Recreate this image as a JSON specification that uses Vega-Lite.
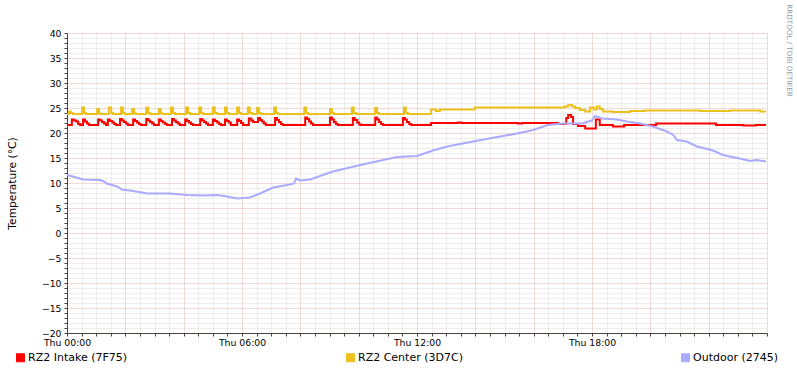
{
  "$schema": "https://vega.github.io/schema/vega-lite/v6.json",
  "width": 700,
  "height": 300,
  "autosize": "none",
  "padding": {"left": 67, "top": 33, "right": 30, "bottom": 40},
  "background": "white",
  "config": {"view": {"stroke": null}, "font": "DejaVu Sans"},
  "title": {"text": "Last 24 hours", "fontSize": 12, "fontWeight": "normal", "color": "black", "anchor": "middle", "dx": -19, "offset": 8},
  "data": {"values": [
    {"t": "2024-01-04T00:00", "s": "RZ2 Intake (7F75)", "v": 21.6}, {"t": "2024-01-04T00:06", "s": "RZ2 Intake (7F75)", "v": 21.6}, {"t": "2024-01-04T00:10", "s": "RZ2 Intake (7F75)", "v": 22.7}, {"t": "2024-01-04T00:14", "s": "RZ2 Intake (7F75)", "v": 22.5}, {"t": "2024-01-04T00:19", "s": "RZ2 Intake (7F75)", "v": 22.3}, {"t": "2024-01-04T00:23", "s": "RZ2 Intake (7F75)", "v": 21.8}, {"t": "2024-01-04T00:27", "s": "RZ2 Intake (7F75)", "v": 21.6},
    {"t": "2024-01-04T00:33", "s": "RZ2 Intake (7F75)", "v": 22.7}, {"t": "2024-01-04T00:37", "s": "RZ2 Intake (7F75)", "v": 22.3}, {"t": "2024-01-04T00:41", "s": "RZ2 Intake (7F75)", "v": 21.9}, {"t": "2024-01-04T00:45", "s": "RZ2 Intake (7F75)", "v": 21.6},
    {"t": "2024-01-04T01:04", "s": "RZ2 Intake (7F75)", "v": 22.7}, {"t": "2024-01-04T01:08", "s": "RZ2 Intake (7F75)", "v": 22.5}, {"t": "2024-01-04T01:12", "s": "RZ2 Intake (7F75)", "v": 22.2}, {"t": "2024-01-04T01:16", "s": "RZ2 Intake (7F75)", "v": 21.9}, {"t": "2024-01-04T01:20", "s": "RZ2 Intake (7F75)", "v": 21.6},
    {"t": "2024-01-04T01:24", "s": "RZ2 Intake (7F75)", "v": 22.7}, {"t": "2024-01-04T01:28", "s": "RZ2 Intake (7F75)", "v": 22.4}, {"t": "2024-01-04T01:33", "s": "RZ2 Intake (7F75)", "v": 22.1}, {"t": "2024-01-04T01:37", "s": "RZ2 Intake (7F75)", "v": 21.8}, {"t": "2024-01-04T01:41", "s": "RZ2 Intake (7F75)", "v": 21.6},
    {"t": "2024-01-04T01:49", "s": "RZ2 Intake (7F75)", "v": 22.8}, {"t": "2024-01-04T01:53", "s": "RZ2 Intake (7F75)", "v": 22.5}, {"t": "2024-01-04T01:57", "s": "RZ2 Intake (7F75)", "v": 22.2}, {"t": "2024-01-04T02:01", "s": "RZ2 Intake (7F75)", "v": 21.9}, {"t": "2024-01-04T02:05", "s": "RZ2 Intake (7F75)", "v": 21.6},
    {"t": "2024-01-04T02:16", "s": "RZ2 Intake (7F75)", "v": 22.7}, {"t": "2024-01-04T02:20", "s": "RZ2 Intake (7F75)", "v": 22.4}, {"t": "2024-01-04T02:24", "s": "RZ2 Intake (7F75)", "v": 22.1}, {"t": "2024-01-04T02:28", "s": "RZ2 Intake (7F75)", "v": 21.8}, {"t": "2024-01-04T02:32", "s": "RZ2 Intake (7F75)", "v": 21.6},
    {"t": "2024-01-04T02:43", "s": "RZ2 Intake (7F75)", "v": 22.8}, {"t": "2024-01-04T02:47", "s": "RZ2 Intake (7F75)", "v": 22.5}, {"t": "2024-01-04T02:51", "s": "RZ2 Intake (7F75)", "v": 22.2}, {"t": "2024-01-04T02:55", "s": "RZ2 Intake (7F75)", "v": 21.9}, {"t": "2024-01-04T02:59", "s": "RZ2 Intake (7F75)", "v": 21.6},
    {"t": "2024-01-04T03:09", "s": "RZ2 Intake (7F75)", "v": 22.7}, {"t": "2024-01-04T03:13", "s": "RZ2 Intake (7F75)", "v": 22.4}, {"t": "2024-01-04T03:17", "s": "RZ2 Intake (7F75)", "v": 22.1}, {"t": "2024-01-04T03:22", "s": "RZ2 Intake (7F75)", "v": 21.8}, {"t": "2024-01-04T03:26", "s": "RZ2 Intake (7F75)", "v": 21.6},
    {"t": "2024-01-04T03:36", "s": "RZ2 Intake (7F75)", "v": 22.8}, {"t": "2024-01-04T03:40", "s": "RZ2 Intake (7F75)", "v": 22.5}, {"t": "2024-01-04T03:44", "s": "RZ2 Intake (7F75)", "v": 22.2}, {"t": "2024-01-04T03:48", "s": "RZ2 Intake (7F75)", "v": 21.9}, {"t": "2024-01-04T03:52", "s": "RZ2 Intake (7F75)", "v": 21.6},
    {"t": "2024-01-04T04:03", "s": "RZ2 Intake (7F75)", "v": 22.7}, {"t": "2024-01-04T04:07", "s": "RZ2 Intake (7F75)", "v": 22.4}, {"t": "2024-01-04T04:11", "s": "RZ2 Intake (7F75)", "v": 22.1}, {"t": "2024-01-04T04:15", "s": "RZ2 Intake (7F75)", "v": 21.8}, {"t": "2024-01-04T04:19", "s": "RZ2 Intake (7F75)", "v": 21.6},
    {"t": "2024-01-04T04:34", "s": "RZ2 Intake (7F75)", "v": 22.8}, {"t": "2024-01-04T04:38", "s": "RZ2 Intake (7F75)", "v": 22.5}, {"t": "2024-01-04T04:42", "s": "RZ2 Intake (7F75)", "v": 22.2}, {"t": "2024-01-04T04:46", "s": "RZ2 Intake (7F75)", "v": 21.9}, {"t": "2024-01-04T04:50", "s": "RZ2 Intake (7F75)", "v": 21.6},
    {"t": "2024-01-04T05:00", "s": "RZ2 Intake (7F75)", "v": 22.7}, {"t": "2024-01-04T05:04", "s": "RZ2 Intake (7F75)", "v": 22.4}, {"t": "2024-01-04T05:09", "s": "RZ2 Intake (7F75)", "v": 22.1}, {"t": "2024-01-04T05:13", "s": "RZ2 Intake (7F75)", "v": 21.8}, {"t": "2024-01-04T05:17", "s": "RZ2 Intake (7F75)", "v": 21.6},
    {"t": "2024-01-04T05:25", "s": "RZ2 Intake (7F75)", "v": 22.7}, {"t": "2024-01-04T05:29", "s": "RZ2 Intake (7F75)", "v": 22.4}, {"t": "2024-01-04T05:33", "s": "RZ2 Intake (7F75)", "v": 22.1}, {"t": "2024-01-04T05:37", "s": "RZ2 Intake (7F75)", "v": 21.6},
    {"t": "2024-01-04T05:50", "s": "RZ2 Intake (7F75)", "v": 22.7}, {"t": "2024-01-04T05:54", "s": "RZ2 Intake (7F75)", "v": 22.4}, {"t": "2024-01-04T05:58", "s": "RZ2 Intake (7F75)", "v": 22.0}, {"t": "2024-01-04T06:02", "s": "RZ2 Intake (7F75)", "v": 21.6},
    {"t": "2024-01-04T06:14", "s": "RZ2 Intake (7F75)", "v": 22.9}, {"t": "2024-01-04T06:19", "s": "RZ2 Intake (7F75)", "v": 22.5}, {"t": "2024-01-04T06:23", "s": "RZ2 Intake (7F75)", "v": 22.2},
    {"t": "2024-01-04T06:33", "s": "RZ2 Intake (7F75)", "v": 23.0}, {"t": "2024-01-04T06:37", "s": "RZ2 Intake (7F75)", "v": 22.6}, {"t": "2024-01-04T06:41", "s": "RZ2 Intake (7F75)", "v": 22.3}, {"t": "2024-01-04T06:45", "s": "RZ2 Intake (7F75)", "v": 21.9}, {"t": "2024-01-04T06:49", "s": "RZ2 Intake (7F75)", "v": 21.6},
    {"t": "2024-01-04T07:08", "s": "RZ2 Intake (7F75)", "v": 23.0}, {"t": "2024-01-04T07:12", "s": "RZ2 Intake (7F75)", "v": 22.6}, {"t": "2024-01-04T07:16", "s": "RZ2 Intake (7F75)", "v": 22.2}, {"t": "2024-01-04T07:20", "s": "RZ2 Intake (7F75)", "v": 21.8}, {"t": "2024-01-04T07:24", "s": "RZ2 Intake (7F75)", "v": 21.6},
    {"t": "2024-01-04T08:10", "s": "RZ2 Intake (7F75)", "v": 23.1}, {"t": "2024-01-04T08:14", "s": "RZ2 Intake (7F75)", "v": 22.8}, {"t": "2024-01-04T08:18", "s": "RZ2 Intake (7F75)", "v": 22.3}, {"t": "2024-01-04T08:22", "s": "RZ2 Intake (7F75)", "v": 21.9}, {"t": "2024-01-04T08:26", "s": "RZ2 Intake (7F75)", "v": 21.6},
    {"t": "2024-01-04T09:01", "s": "RZ2 Intake (7F75)", "v": 23.1}, {"t": "2024-01-04T09:05", "s": "RZ2 Intake (7F75)", "v": 22.7}, {"t": "2024-01-04T09:09", "s": "RZ2 Intake (7F75)", "v": 22.2}, {"t": "2024-01-04T09:13", "s": "RZ2 Intake (7F75)", "v": 21.8}, {"t": "2024-01-04T09:17", "s": "RZ2 Intake (7F75)", "v": 21.6},
    {"t": "2024-01-04T09:48", "s": "RZ2 Intake (7F75)", "v": 23.0}, {"t": "2024-01-04T09:52", "s": "RZ2 Intake (7F75)", "v": 22.6}, {"t": "2024-01-04T09:57", "s": "RZ2 Intake (7F75)", "v": 22.1}, {"t": "2024-01-04T10:01", "s": "RZ2 Intake (7F75)", "v": 21.7}, {"t": "2024-01-04T10:05", "s": "RZ2 Intake (7F75)", "v": 21.6},
    {"t": "2024-01-04T10:34", "s": "RZ2 Intake (7F75)", "v": 23.1}, {"t": "2024-01-04T10:38", "s": "RZ2 Intake (7F75)", "v": 22.7}, {"t": "2024-01-04T10:42", "s": "RZ2 Intake (7F75)", "v": 22.2}, {"t": "2024-01-04T10:46", "s": "RZ2 Intake (7F75)", "v": 21.8}, {"t": "2024-01-04T10:50", "s": "RZ2 Intake (7F75)", "v": 21.6},
    {"t": "2024-01-04T11:31", "s": "RZ2 Intake (7F75)", "v": 23.0}, {"t": "2024-01-04T11:35", "s": "RZ2 Intake (7F75)", "v": 22.7}, {"t": "2024-01-04T11:39", "s": "RZ2 Intake (7F75)", "v": 22.2}, {"t": "2024-01-04T11:44", "s": "RZ2 Intake (7F75)", "v": 21.8}, {"t": "2024-01-04T11:48", "s": "RZ2 Intake (7F75)", "v": 21.6},
    {"t": "2024-01-04T12:29", "s": "RZ2 Intake (7F75)", "v": 22.0}, {"t": "2024-01-04T13:24", "s": "RZ2 Intake (7F75)", "v": 22.1}, {"t": "2024-01-04T13:31", "s": "RZ2 Intake (7F75)", "v": 22.0}, {"t": "2024-01-04T15:28", "s": "RZ2 Intake (7F75)", "v": 21.9}, {"t": "2024-01-04T15:36", "s": "RZ2 Intake (7F75)", "v": 22.0},
    {"t": "2024-01-04T16:50", "s": "RZ2 Intake (7F75)", "v": 21.8}, {"t": "2024-01-04T17:07", "s": "RZ2 Intake (7F75)", "v": 23.0}, {"t": "2024-01-04T17:11", "s": "RZ2 Intake (7F75)", "v": 23.6}, {"t": "2024-01-04T17:17", "s": "RZ2 Intake (7F75)", "v": 23.2}, {"t": "2024-01-04T17:21", "s": "RZ2 Intake (7F75)", "v": 21.8},
    {"t": "2024-01-04T17:31", "s": "RZ2 Intake (7F75)", "v": 21.4}, {"t": "2024-01-04T17:46", "s": "RZ2 Intake (7F75)", "v": 20.9}, {"t": "2024-01-04T18:08", "s": "RZ2 Intake (7F75)", "v": 22.7}, {"t": "2024-01-04T18:16", "s": "RZ2 Intake (7F75)", "v": 21.6}, {"t": "2024-01-04T18:43", "s": "RZ2 Intake (7F75)", "v": 21.3},
    {"t": "2024-01-04T19:06", "s": "RZ2 Intake (7F75)", "v": 21.6}, {"t": "2024-01-04T20:12", "s": "RZ2 Intake (7F75)", "v": 21.9}, {"t": "2024-01-04T22:15", "s": "RZ2 Intake (7F75)", "v": 21.6}, {"t": "2024-01-04T23:11", "s": "RZ2 Intake (7F75)", "v": 21.5}, {"t": "2024-01-04T23:37", "s": "RZ2 Intake (7F75)", "v": 21.6}, {"t": "2024-01-04T23:58", "s": "RZ2 Intake (7F75)", "v": 21.6},
    {"t": "2024-01-04T00:00", "s": "RZ2 Center (3D7C)", "v": 23.8}, {"t": "2024-01-04T00:04", "s": "RZ2 Center (3D7C)", "v": 24.3}, {"t": "2024-01-04T00:08", "s": "RZ2 Center (3D7C)", "v": 24.0}, {"t": "2024-01-04T00:12", "s": "RZ2 Center (3D7C)", "v": 23.8},
    {"t": "2024-01-04T00:31", "s": "RZ2 Center (3D7C)", "v": 25.1}, {"t": "2024-01-04T00:35", "s": "RZ2 Center (3D7C)", "v": 24.0}, {"t": "2024-01-04T00:39", "s": "RZ2 Center (3D7C)", "v": 23.8},
    {"t": "2024-01-04T01:02", "s": "RZ2 Center (3D7C)", "v": 24.8}, {"t": "2024-01-04T01:06", "s": "RZ2 Center (3D7C)", "v": 23.9}, {"t": "2024-01-04T01:10", "s": "RZ2 Center (3D7C)", "v": 23.8},
    {"t": "2024-01-04T01:26", "s": "RZ2 Center (3D7C)", "v": 25.1}, {"t": "2024-01-04T01:31", "s": "RZ2 Center (3D7C)", "v": 24.0}, {"t": "2024-01-04T01:35", "s": "RZ2 Center (3D7C)", "v": 23.8},
    {"t": "2024-01-04T01:51", "s": "RZ2 Center (3D7C)", "v": 25.1}, {"t": "2024-01-04T01:55", "s": "RZ2 Center (3D7C)", "v": 24.0}, {"t": "2024-01-04T01:59", "s": "RZ2 Center (3D7C)", "v": 23.8},
    {"t": "2024-01-04T02:14", "s": "RZ2 Center (3D7C)", "v": 24.8}, {"t": "2024-01-04T02:18", "s": "RZ2 Center (3D7C)", "v": 23.9}, {"t": "2024-01-04T02:22", "s": "RZ2 Center (3D7C)", "v": 23.8},
    {"t": "2024-01-04T02:43", "s": "RZ2 Center (3D7C)", "v": 25.1}, {"t": "2024-01-04T02:47", "s": "RZ2 Center (3D7C)", "v": 24.0}, {"t": "2024-01-04T02:51", "s": "RZ2 Center (3D7C)", "v": 23.8},
    {"t": "2024-01-04T03:09", "s": "RZ2 Center (3D7C)", "v": 24.8}, {"t": "2024-01-04T03:13", "s": "RZ2 Center (3D7C)", "v": 23.9}, {"t": "2024-01-04T03:17", "s": "RZ2 Center (3D7C)", "v": 23.8},
    {"t": "2024-01-04T03:34", "s": "RZ2 Center (3D7C)", "v": 25.1}, {"t": "2024-01-04T03:38", "s": "RZ2 Center (3D7C)", "v": 24.0}, {"t": "2024-01-04T03:42", "s": "RZ2 Center (3D7C)", "v": 23.8},
    {"t": "2024-01-04T04:05", "s": "RZ2 Center (3D7C)", "v": 25.1}, {"t": "2024-01-04T04:09", "s": "RZ2 Center (3D7C)", "v": 24.0}, {"t": "2024-01-04T04:13", "s": "RZ2 Center (3D7C)", "v": 23.8},
    {"t": "2024-01-04T04:32", "s": "RZ2 Center (3D7C)", "v": 25.1}, {"t": "2024-01-04T04:36", "s": "RZ2 Center (3D7C)", "v": 24.0}, {"t": "2024-01-04T04:40", "s": "RZ2 Center (3D7C)", "v": 23.8},
    {"t": "2024-01-04T05:00", "s": "RZ2 Center (3D7C)", "v": 25.1}, {"t": "2024-01-04T05:04", "s": "RZ2 Center (3D7C)", "v": 24.0}, {"t": "2024-01-04T05:09", "s": "RZ2 Center (3D7C)", "v": 23.8},
    {"t": "2024-01-04T05:25", "s": "RZ2 Center (3D7C)", "v": 25.1}, {"t": "2024-01-04T05:29", "s": "RZ2 Center (3D7C)", "v": 24.0}, {"t": "2024-01-04T05:33", "s": "RZ2 Center (3D7C)", "v": 23.8},
    {"t": "2024-01-04T05:50", "s": "RZ2 Center (3D7C)", "v": 25.1}, {"t": "2024-01-04T05:54", "s": "RZ2 Center (3D7C)", "v": 24.0}, {"t": "2024-01-04T05:58", "s": "RZ2 Center (3D7C)", "v": 23.8},
    {"t": "2024-01-04T06:12", "s": "RZ2 Center (3D7C)", "v": 25.1}, {"t": "2024-01-04T06:16", "s": "RZ2 Center (3D7C)", "v": 24.0}, {"t": "2024-01-04T06:21", "s": "RZ2 Center (3D7C)", "v": 23.8},
    {"t": "2024-01-04T06:31", "s": "RZ2 Center (3D7C)", "v": 25.0}, {"t": "2024-01-04T06:35", "s": "RZ2 Center (3D7C)", "v": 24.0}, {"t": "2024-01-04T06:39", "s": "RZ2 Center (3D7C)", "v": 23.8},
    {"t": "2024-01-04T07:06", "s": "RZ2 Center (3D7C)", "v": 25.1}, {"t": "2024-01-04T07:10", "s": "RZ2 Center (3D7C)", "v": 24.0}, {"t": "2024-01-04T07:14", "s": "RZ2 Center (3D7C)", "v": 23.8},
    {"t": "2024-01-04T08:08", "s": "RZ2 Center (3D7C)", "v": 25.1}, {"t": "2024-01-04T08:12", "s": "RZ2 Center (3D7C)", "v": 24.0}, {"t": "2024-01-04T08:16", "s": "RZ2 Center (3D7C)", "v": 23.8},
    {"t": "2024-01-04T09:01", "s": "RZ2 Center (3D7C)", "v": 24.8}, {"t": "2024-01-04T09:05", "s": "RZ2 Center (3D7C)", "v": 24.0}, {"t": "2024-01-04T09:09", "s": "RZ2 Center (3D7C)", "v": 23.8},
    {"t": "2024-01-04T09:46", "s": "RZ2 Center (3D7C)", "v": 25.1}, {"t": "2024-01-04T09:50", "s": "RZ2 Center (3D7C)", "v": 24.0}, {"t": "2024-01-04T09:55", "s": "RZ2 Center (3D7C)", "v": 23.8},
    {"t": "2024-01-04T10:34", "s": "RZ2 Center (3D7C)", "v": 25.0}, {"t": "2024-01-04T10:38", "s": "RZ2 Center (3D7C)", "v": 24.0}, {"t": "2024-01-04T10:42", "s": "RZ2 Center (3D7C)", "v": 23.8},
    {"t": "2024-01-04T11:33", "s": "RZ2 Center (3D7C)", "v": 25.1}, {"t": "2024-01-04T11:37", "s": "RZ2 Center (3D7C)", "v": 24.0}, {"t": "2024-01-04T11:41", "s": "RZ2 Center (3D7C)", "v": 23.8},
    {"t": "2024-01-04T12:29", "s": "RZ2 Center (3D7C)", "v": 24.7}, {"t": "2024-01-04T12:39", "s": "RZ2 Center (3D7C)", "v": 24.4}, {"t": "2024-01-04T12:47", "s": "RZ2 Center (3D7C)", "v": 24.7}, {"t": "2024-01-04T13:59", "s": "RZ2 Center (3D7C)", "v": 25.1},
    {"t": "2024-01-04T17:04", "s": "RZ2 Center (3D7C)", "v": 25.3}, {"t": "2024-01-04T17:11", "s": "RZ2 Center (3D7C)", "v": 25.6}, {"t": "2024-01-04T17:19", "s": "RZ2 Center (3D7C)", "v": 25.3}, {"t": "2024-01-04T17:25", "s": "RZ2 Center (3D7C)", "v": 25.0},
    {"t": "2024-01-04T17:35", "s": "RZ2 Center (3D7C)", "v": 24.6}, {"t": "2024-01-04T17:46", "s": "RZ2 Center (3D7C)", "v": 24.3}, {"t": "2024-01-04T17:56", "s": "RZ2 Center (3D7C)", "v": 25.1}, {"t": "2024-01-04T18:04", "s": "RZ2 Center (3D7C)", "v": 24.7},
    {"t": "2024-01-04T18:10", "s": "RZ2 Center (3D7C)", "v": 25.3}, {"t": "2024-01-04T18:16", "s": "RZ2 Center (3D7C)", "v": 24.8}, {"t": "2024-01-04T18:23", "s": "RZ2 Center (3D7C)", "v": 24.3}, {"t": "2024-01-04T18:43", "s": "RZ2 Center (3D7C)", "v": 24.2},
    {"t": "2024-01-04T19:18", "s": "RZ2 Center (3D7C)", "v": 24.4}, {"t": "2024-01-04T19:49", "s": "RZ2 Center (3D7C)", "v": 24.5}, {"t": "2024-01-04T21:42", "s": "RZ2 Center (3D7C)", "v": 24.4}, {"t": "2024-01-04T22:44", "s": "RZ2 Center (3D7C)", "v": 24.5},
    {"t": "2024-01-04T23:46", "s": "RZ2 Center (3D7C)", "v": 24.3}, {"t": "2024-01-04T23:58", "s": "RZ2 Center (3D7C)", "v": 24.3},
    {"t": "2024-01-04T00:00", "s": "Outdoor (2745)", "v": 11.6}, {"t": "2024-01-04T00:12", "s": "Outdoor (2745)", "v": 11.3}, {"t": "2024-01-04T00:33", "s": "Outdoor (2745)", "v": 10.7}, {"t": "2024-01-04T01:08", "s": "Outdoor (2745)", "v": 10.6},
    {"t": "2024-01-04T01:16", "s": "Outdoor (2745)", "v": 10.3}, {"t": "2024-01-04T01:22", "s": "Outdoor (2745)", "v": 9.9}, {"t": "2024-01-04T01:43", "s": "Outdoor (2745)", "v": 9.3}, {"t": "2024-01-04T01:53", "s": "Outdoor (2745)", "v": 8.7},
    {"t": "2024-01-04T02:16", "s": "Outdoor (2745)", "v": 8.4}, {"t": "2024-01-04T02:45", "s": "Outdoor (2745)", "v": 7.9}, {"t": "2024-01-04T03:32", "s": "Outdoor (2745)", "v": 7.9}, {"t": "2024-01-04T04:07", "s": "Outdoor (2745)", "v": 7.6},
    {"t": "2024-01-04T04:40", "s": "Outdoor (2745)", "v": 7.5}, {"t": "2024-01-04T05:09", "s": "Outdoor (2745)", "v": 7.6}, {"t": "2024-01-04T05:29", "s": "Outdoor (2745)", "v": 7.3}, {"t": "2024-01-04T05:50", "s": "Outdoor (2745)", "v": 6.9},
    {"t": "2024-01-04T06:16", "s": "Outdoor (2745)", "v": 7.1}, {"t": "2024-01-04T06:37", "s": "Outdoor (2745)", "v": 7.9}, {"t": "2024-01-04T07:04", "s": "Outdoor (2745)", "v": 9.1}, {"t": "2024-01-04T07:33", "s": "Outdoor (2745)", "v": 9.6},
    {"t": "2024-01-04T07:47", "s": "Outdoor (2745)", "v": 9.9}, {"t": "2024-01-04T07:51", "s": "Outdoor (2745)", "v": 10.9}, {"t": "2024-01-04T07:59", "s": "Outdoor (2745)", "v": 10.5}, {"t": "2024-01-04T08:20", "s": "Outdoor (2745)", "v": 10.7},
    {"t": "2024-01-04T09:07", "s": "Outdoor (2745)", "v": 12.3}, {"t": "2024-01-04T10:17", "s": "Outdoor (2745)", "v": 13.9}, {"t": "2024-01-04T11:19", "s": "Outdoor (2745)", "v": 15.2}, {"t": "2024-01-04T12:00", "s": "Outdoor (2745)", "v": 15.4},
    {"t": "2024-01-04T12:33", "s": "Outdoor (2745)", "v": 16.5}, {"t": "2024-01-04T13:02", "s": "Outdoor (2745)", "v": 17.3}, {"t": "2024-01-04T13:55", "s": "Outdoor (2745)", "v": 18.3}, {"t": "2024-01-04T14:51", "s": "Outdoor (2745)", "v": 19.3},
    {"t": "2024-01-04T15:26", "s": "Outdoor (2745)", "v": 19.9}, {"t": "2024-01-04T15:59", "s": "Outdoor (2745)", "v": 20.6}, {"t": "2024-01-04T16:29", "s": "Outdoor (2745)", "v": 21.6}, {"t": "2024-01-04T17:00", "s": "Outdoor (2745)", "v": 21.9},
    {"t": "2024-01-04T17:41", "s": "Outdoor (2745)", "v": 21.9}, {"t": "2024-01-04T17:52", "s": "Outdoor (2745)", "v": 22.3}, {"t": "2024-01-04T18:00", "s": "Outdoor (2745)", "v": 22.5}, {"t": "2024-01-04T18:06", "s": "Outdoor (2745)", "v": 23.4},
    {"t": "2024-01-04T18:21", "s": "Outdoor (2745)", "v": 22.9}, {"t": "2024-01-04T18:51", "s": "Outdoor (2745)", "v": 22.7}, {"t": "2024-01-04T19:12", "s": "Outdoor (2745)", "v": 22.3}, {"t": "2024-01-04T19:39", "s": "Outdoor (2745)", "v": 21.9},
    {"t": "2024-01-04T20:05", "s": "Outdoor (2745)", "v": 21.3}, {"t": "2024-01-04T20:34", "s": "Outdoor (2745)", "v": 20.3}, {"t": "2024-01-04T20:47", "s": "Outdoor (2745)", "v": 19.6}, {"t": "2024-01-04T20:55", "s": "Outdoor (2745)", "v": 18.6},
    {"t": "2024-01-04T21:15", "s": "Outdoor (2745)", "v": 18.3}, {"t": "2024-01-04T21:36", "s": "Outdoor (2745)", "v": 17.3}, {"t": "2024-01-04T22:09", "s": "Outdoor (2745)", "v": 16.5}, {"t": "2024-01-04T22:29", "s": "Outdoor (2745)", "v": 15.6},
    {"t": "2024-01-04T23:04", "s": "Outdoor (2745)", "v": 14.9}, {"t": "2024-01-04T23:25", "s": "Outdoor (2745)", "v": 14.4}, {"t": "2024-01-04T23:39", "s": "Outdoor (2745)", "v": 14.6}, {"t": "2024-01-04T23:58", "s": "Outdoor (2745)", "v": 14.3}
  ]},
  "encoding": {
    "x": {
      "field": "t", "type": "temporal",
      "scale": {"domain": [{"year": 2024, "month": 1, "date": 4, "hours": 0}, {"year": 2024, "month": 1, "date": 5, "hours": 0}], "nice": false},
      "axis": {
        "title": null,
        "tickCount": 48,
        "grid": true,
        "gridColor": {"condition": {"test": "hours(datum.value) % 2 === 0 && minutes(datum.value) === 0", "value": "#e6b0b0"}, "value": "#dcdcdc"},
        "gridDash": [1, 1],
        "labelExpr": "(hours(datum.value) % 6 === 0 && minutes(datum.value) === 0 && date(datum.value) === 4) ? timeFormat(datum.value, '%a %H:%M') : ''",
        "labelFontSize": 9.3, "labelColor": "black", "labelPadding": 2, "labelOverlap": false, "labelFlush": false,
        "tickSize": 3, "tickColor": "#504040", "domainColor": "#504040"
      }
    },
    "y": {
      "field": "v", "type": "quantitative",
      "scale": {"domain": [-20, 40], "nice": false, "zero": false},
      "axis": {
        "title": "Temperature (°C)",
        "tickCount": 60,
        "grid": true,
        "gridColor": {"condition": {"test": "datum.value % 5 === 0", "value": "#e6b0b0"}, "value": "#dcdcdc"},
        "gridDash": [1, 1],
        "labelExpr": "datum.value % 5 === 0 ? datum.label : ''",
        "labelFontSize": 9.3, "labelColor": "black", "labelPadding": 3, "labelOverlap": false, "labelFlush": false,
        "tickSize": 3, "tickColor": "#504040", "domainColor": "#504040",
        "titleFontSize": 10.7, "titleFontWeight": "normal", "titleColor": "black", "titlePadding": 24
      }
    },
    "color": {
      "field": "s", "type": "nominal",
      "scale": {"domain": ["RZ2 Intake (7F75)", "RZ2 Center (3D7C)", "Outdoor (2745)"], "range": ["#FF0000", "#EBC11E", "#AAAAFF"]},
      "legend": {
        "orient": "none", "legendX": -52, "legendY": 319, "direction": "horizontal", "title": null,
        "labelFontSize": 11, "labelColor": "black", "labelOffset": 2, "columnPadding": 216,
        "symbolType": "square", "symbolSize": 64,
        "encode": {"symbols": {"update": {"fill": {"scale": "color", "field": "value"}, "stroke": {"value": "black"}, "strokeWidth": {"value": 1}}}}
      }
    }
  },
  "resolve": {"axis": {"y": "independent"}},
  "layer": [
    {
      "transform": [{"filter": "datum.s !== 'Outdoor (2745)'"}],
      "mark": {"type": "line", "interpolate": "step-after", "strokeWidth": 2}
    },
    {
      "transform": [{"filter": "datum.s === 'Outdoor (2745)'"}],
      "mark": {"type": "line", "interpolate": "linear", "strokeWidth": 2},
      "encoding": {
        "y": {
          "field": "v", "type": "quantitative",
          "axis": {
            "orient": "right", "title": "RRDTOOL / TOBI OETIKER", "labels": false, "ticks": false, "domain": false, "grid": false,
            "titleAngle": 90, "titleX": 21, "titleY": 17, "titleAlign": "center", "titleBaseline": "middle",
            "titleFontSize": 7.2, "titleColor": "#999999", "titleFontWeight": "normal"
          }
        }
      }
    }
  ]
}
